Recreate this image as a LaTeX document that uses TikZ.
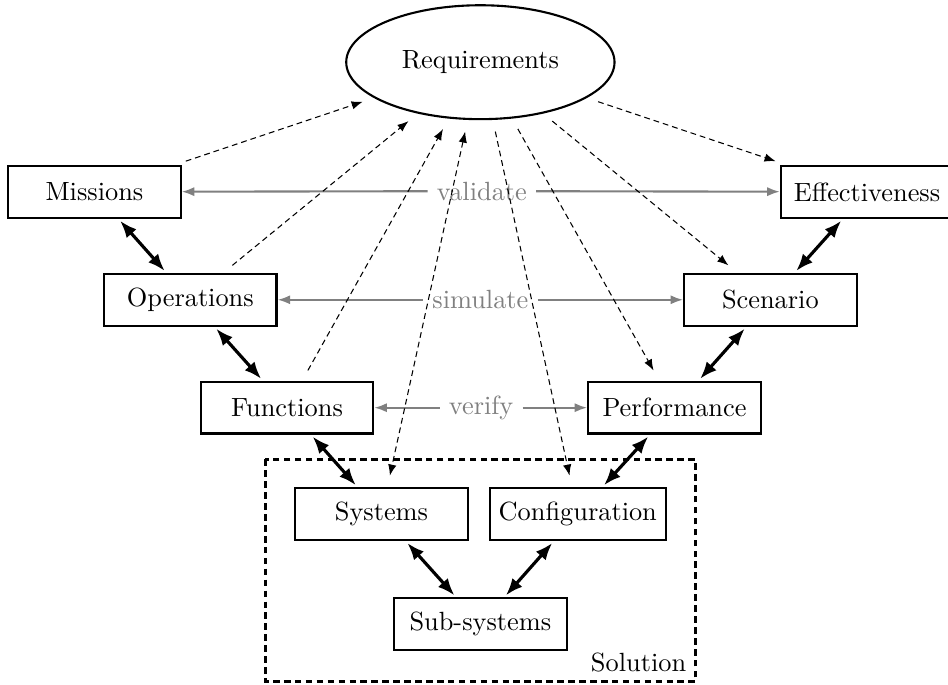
\documentclass[tikz,border=0pt]{standalone}
\usepackage{tikz}
\usetikzlibrary{arrows.meta}
\usetikzlibrary{shapes.geometric}

\begin{document}
\begin{tikzpicture}[
    block/.style={draw, thick, minimum width=2.3cm, minimum height=0.69cm},
    link/.style={>={Latex[length=6.5pt,width=5pt]}, <->, line width=1.2pt, shorten <=1pt, shorten >=1pt},
    trace/.style={>={Latex[length=4.2pt,width=3.2pt]}, dash pattern=on 2.2pt off 1.5pt, shorten <=4.5pt, shorten >=4.5pt},
    check/.style={>={Latex[length=4.8pt,width=3.5pt]}, gray, thick},
  ]
                  \useasboundingbox (0,0) rectangle (12.65,-9.14);

                  % Requirements
                  \node[draw, thick, ellipse, minimum width=3.58cm, minimum height=1.52cm] (req) at (6.41,-0.83) {Requirements};

                  % Left column
                  \node[block] (mis) at (1.26,-2.56) {Missions};
                  \node[block] (ops) at (2.54,-4.00) {Operations};
                  \node[block] (fun) at (3.83,-5.44) {Functions};

                  % Right column
                  \node[block] (eff) at (11.57,-2.56) {Effectiveness};
                  \node[block] (scn) at (10.28,-4.00) {Scenario};
                  \node[block] (perf) at (9.00,-5.44) {Performance};

                  % Solution
                  \coordinate (solA) at (3.54,-6.13);
                  \coordinate (solB) at (9.28,-9.09);
                  \draw[line width=1.2pt, dash pattern=on 2.5pt off 1.65pt] (solA) rectangle (solB);
                  \node[anchor=south east] (soltxt) at (solB) {Solution};
                  \node[block] (sys) at (5.09,-6.86) {Systems};
                  \node[block] (cfg) at (7.71,-6.86) {Configuration};
                  \node[block] (sub) at (6.41,-8.33) {Sub-systems};

                  % Labels
                  \node[text=gray] (val) at (6.43,-2.55) {validate};
                  \node[text=gray] (sim) at (6.41,-4.00) {simulate};
                  \node[text=gray] (ver) at (6.42,-5.44) {verify};

                  % Gray arrows
                  \draw[check, <-] (mis) -- (val);
                  \draw[check, ->] (val) -- (eff);
                  \draw[check, <-] (ops) -- (sim);
                  \draw[check, ->] (sim) -- (scn);
                  \draw[check, <-] (fun) -- (ver);
                  \draw[check, ->] (ver) -- (perf);

                  % Dashed arrows
                  \draw[trace, ->] (mis) -- (req);
                  \draw[trace, ->] (ops) -- (req);
                  \draw[trace, ->] (fun) -- (req);
                  \draw[trace, <->] (req) -- (sys);
                  \draw[trace, ->] (req) -- (cfg);
                  \draw[trace, ->] (req) -- (perf);
                  \draw[trace, ->] (req) -- (scn);
                  \draw[trace, ->] (req) -- (eff);

                  % Thick arrows
                  \draw[link] (mis) -- (ops);
                  \draw[link] (ops) -- (fun);
                  \draw[link] (fun) -- (sys);
                  \draw[link] (sys) -- (sub);
                  \draw[link] (cfg) -- (sub);
                  \draw[link] (perf) -- (cfg);
                  \draw[link] (scn) -- (perf);
                  \draw[link] (eff) -- (scn);

              \end{tikzpicture}
\end{document}
